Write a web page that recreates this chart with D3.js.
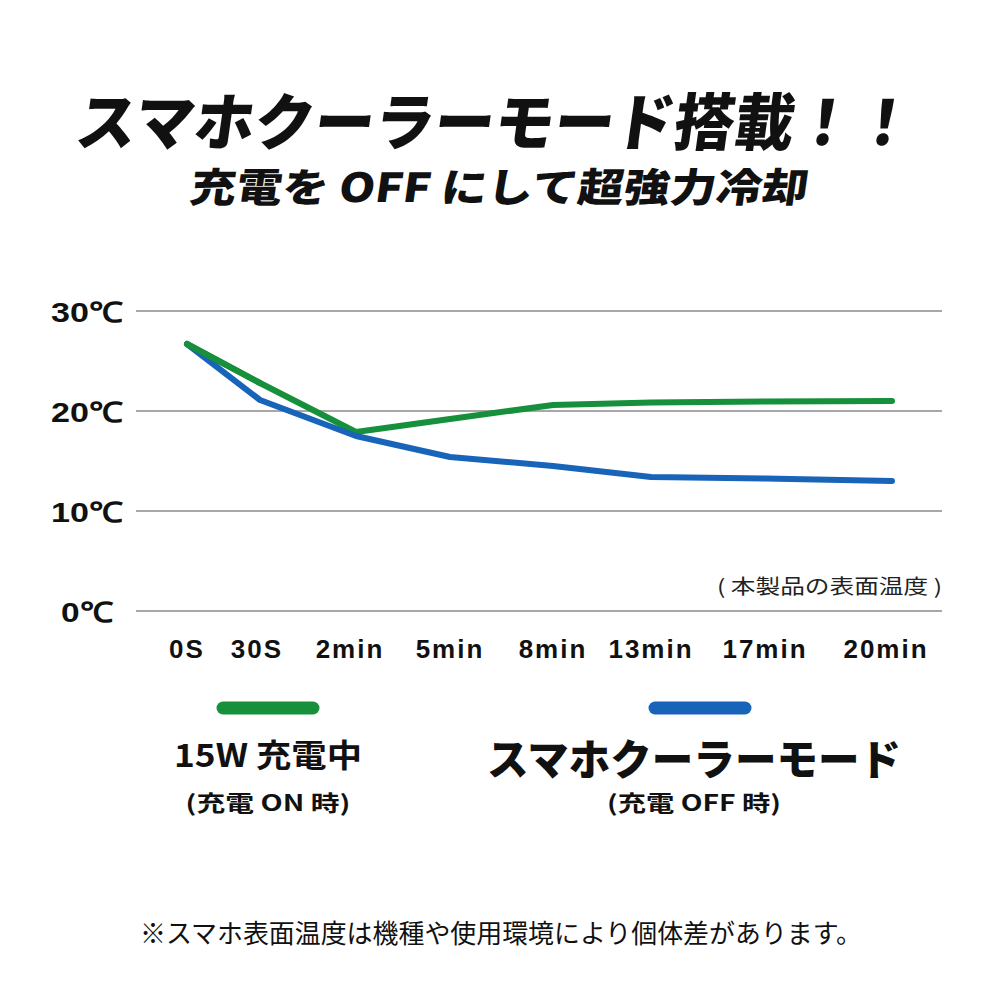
<!DOCTYPE html>
<html><head><meta charset="utf-8">
<script src="https://cdn.jsdelivr.net/npm/d3@7"></script>
<style>
html,body{margin:0;padding:0;background:#fff;}
svg{display:block;}
</style></head>
<body>
<svg id="chart" width="1000" height="1000"></svg>
<script>
const categories = ["0S","30S","2min","5min","8min","13min","17min","20min"];
const chargingOn = [26.7, 22.8, 17.9, 19.2, 20.6, 20.85, 20.95, 21.0];
const coolerMode = [26.7, 21.1, 17.5, 15.4, 14.5, 13.4, 13.25, 13.0];
const yTicks = [0, 10, 20, 30];
const yTickLabels = ["0℃","10℃","20℃","30℃"];
const seriesNames = ["15W 充電中", "スマホクーラーモード"];
const seriesSub = ["(充電 ON 時)", "(充電 OFF 時)"];
const colors = ["#16903a", "#1764b8"];

const svg = d3.select("#chart");
const JP = "'Noto Sans CJK JP','Noto Sans',sans-serif";
const LAT = "'Liberation Sans',Arial,sans-serif";

// titles
svg.append("text").attr("x", 497).attr("y", 118)
  .attr("text-anchor","middle").attr("dominant-baseline","central")
  .attr("font-family", JP).attr("font-weight", 900).attr("font-size", 62)
  .attr("transform","skewX(-8) translate(16,0)")
  .attr("textLength", 838).attr("lengthAdjust","spacingAndGlyphs")
  .attr("fill","#111").text("スマホクーラーモード搭載！！");
svg.append("text").attr("x", 500).attr("y", 185)
  .attr("text-anchor","middle").attr("dominant-baseline","central")
  .attr("font-family", JP).attr("font-weight", 900).attr("font-size", 40)
  .attr("transform","skewX(-8) translate(26,0)")
  .attr("textLength", 618).attr("lengthAdjust","spacingAndGlyphs")
  .attr("fill","#111").text("充電を OFF にして超強力冷却");

// scales
const y = d3.scaleLinear().domain([0,30]).range([611, 311]);
const x = d3.scaleLinear().domain(d3.range(categories.length))
  .range([187, 260, 356, 450, 553, 651, 765, 892]);

// grid
svg.append("g").selectAll("line").data(yTicks).join("line")
  .attr("x1", 136).attr("x2", 942)
  .attr("y1", d => y(d)).attr("y2", d => y(d))
  .attr("stroke", "#a8a8a8").attr("stroke-width", 2);

// y labels
svg.append("g").selectAll("text").data(yTicks).join("text")
  .attr("x", 87).attr("y", d => y(d) + 1)
  .attr("text-anchor","middle").attr("dominant-baseline","central")
  .attr("font-family", LAT).attr("font-weight",700)
  .attr("font-size", 28).attr("fill","#111")
  .attr("textLength", (d,i) => yTickLabels[i].length > 2 ? 72 : 52)
  .attr("lengthAdjust","spacingAndGlyphs")
  .text((d,i) => yTickLabels[i]);

// x labels
svg.append("g").selectAll("text").data(categories).join("text")
  .attr("x", (d,i) => x(i) - (i===2||i===7?6:(i===1?3:0)) ).attr("y", 649)
  .attr("text-anchor","middle").attr("dominant-baseline","central")
  .attr("font-family", LAT).attr("font-weight",700)
  .attr("font-size", 26).attr("letter-spacing", 2).attr("fill","#111")
  .text(d => d);

// note
svg.append("text").attr("x", 942).attr("y", 585)
  .attr("text-anchor","end").attr("dominant-baseline","central")
  .attr("font-family", JP).attr("font-size", 20).attr("fill","#222")
  .attr("textLength", 225).attr("lengthAdjust","spacingAndGlyphs")
  .text("( 本製品の表面温度 )");

// lines
const line = d3.line().x((d,i) => x(i)).y(d => y(d));
[chargingOn, coolerMode].forEach((s, k) => {
  svg.append("path").datum(s).attr("d", line)
    .attr("fill","none").attr("stroke", colors[k]).attr("stroke-width", 6)
    .attr("stroke-linecap","round").attr("stroke-linejoin","round");
});
svg.append("path").datum(chargingOn.slice(0,2)).attr("d", line)
  .attr("fill","none").attr("stroke", colors[0]).attr("stroke-width", 6)
  .attr("stroke-linecap","round");

// legend
const legX = [268, 700];
legX.forEach((cx, k) => {
  svg.append("line").attr("x1", cx-45).attr("x2", cx+45)
    .attr("y1", 708).attr("y2", 708)
    .attr("stroke", colors[k]).attr("stroke-width", 13).attr("stroke-linecap","round");
});
svg.append("text").attr("x", 268).attr("y", 753)
  .attr("text-anchor","middle").attr("dominant-baseline","central")
  .attr("font-family", JP).attr("font-weight", 700).attr("font-size", 32)
  .attr("textLength", 188).attr("lengthAdjust","spacingAndGlyphs")
  .attr("fill","#111").text(seriesNames[0]);
svg.append("text").attr("x", 694).attr("y", 756)
  .attr("text-anchor","middle").attr("dominant-baseline","central")
  .attr("font-family", JP).attr("font-weight", 900).attr("font-size", 42)
  .attr("textLength", 414).attr("lengthAdjust","spacingAndGlyphs")
  .attr("fill","#111").text(seriesNames[1]);
svg.append("text").attr("x", 268).attr("y", 801)
  .attr("text-anchor","middle").attr("dominant-baseline","central")
  .attr("font-family", JP).attr("font-weight", 700).attr("font-size", 22)
  .attr("textLength", 165).attr("lengthAdjust","spacingAndGlyphs")
  .attr("fill","#111").text(seriesSub[0]);
svg.append("text").attr("x", 694).attr("y", 801)
  .attr("text-anchor","middle").attr("dominant-baseline","central")
  .attr("font-family", JP).attr("font-weight", 700).attr("font-size", 22)
  .attr("textLength", 174).attr("lengthAdjust","spacingAndGlyphs")
  .attr("fill","#111").text(seriesSub[1]);

// footer
svg.append("text").attr("x", 501).attr("y", 931)
  .attr("text-anchor","middle").attr("dominant-baseline","central")
  .attr("font-family", JP).attr("font-weight", 400).attr("font-size", 26)
  .attr("textLength", 722).attr("lengthAdjust","spacingAndGlyphs")
  .attr("fill","#111").text("※スマホ表面温度は機種や使用環境により個体差があります。");
</script>
</body></html>
